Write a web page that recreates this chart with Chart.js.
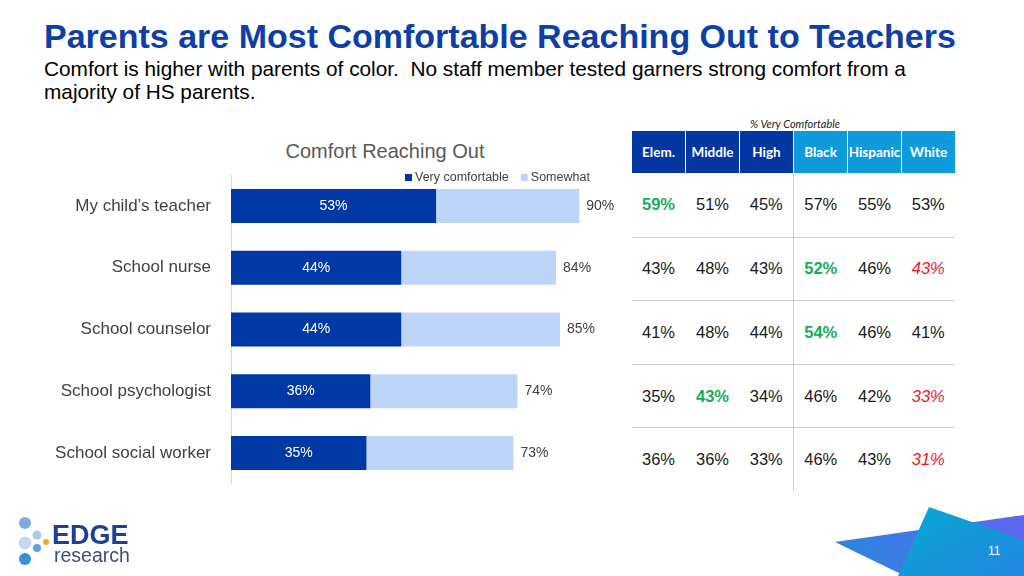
<!DOCTYPE html>
<html>
<head>
<meta charset="utf-8">
<script src="https://cdn.jsdelivr.net/npm/chart.js@4"></script>
<style>
    body { margin: 0; width: 1024px; height: 576px; overflow: hidden; background: #fff; font-family: "Liberation Sans", Arial, sans-serif; position: relative; }
    #title { position: absolute; left: 44px; top: 17px; font-size: 34px; font-weight: bold; color: #0D3FA6; white-space: nowrap; }
    #subtitle { position: absolute; left: 44px; top: 57px; font-size: 20.8px; line-height: 23px; color: #000; width: 900px; }
    #chartTitle { position: absolute; left: 240px; width: 290px; top: 140px; text-align: center; font-size: 20px; color: #595959; }
    #chartWrap { position: absolute; left: 0; top: 145px; width: 625px; height: 369px; }
    #tblCaption { position: absolute; left: 700px; width: 190px; top: 117px; text-align: center; font-family: Lato, sans-serif; font-style: italic; font-size: 11px; color: #222; }
    #tbl { position: absolute; left: 631px; top: 131px; border-collapse: collapse; }
    #tbl th { width: 53px; height: 42px; padding: 0; color: #fff; font-family: Lato, sans-serif; font-size: 13.5px; font-weight: bold; border-left: 1px solid #fff; }
    #tbl th.school { background: #0335A3; }
    #tbl th.demo { background: #0E9BDC; }
    #tbl td { height: 62.6px; padding: 0; text-align: center; font-size: 16.5px; color: #1a1a1a; border-bottom: 1px solid #cfcfcf; }
    #tbl tr:first-child td { height: 63.6px; }
    #tbl tr:last-child td { border-bottom: none; }
    #tbl td.sep { border-left: 1px solid #cfcfcf; }
    #tbl .hi { color: #16AD5A; font-weight: bold; }
    #tbl .lo { color: #E8161E; font-style: italic; }
    #logo { position: absolute; left: 0; top: 505px; }
    #deco { position: absolute; left: 820px; top: 490px; }
    #pageNum { position: absolute; left: 988px; top: 544px; font-size: 12px; color: #fff; }
</style>
</head>
<body>

<div id="title">Parents are Most Comfortable Reaching Out to Teachers</div>
<div id="subtitle">Comfort is higher with parents of color.&nbsp; No staff member tested garners strong comfort from a majority of HS parents.</div>

<div id="chartTitle">Comfort Reaching Out</div>
<div id="chartWrap"><canvas id="comfortChart"></canvas></div>

<div id="tblCaption">% Very Comfortable</div>
<table id="tbl"><thead><tr id="tblHead"></tr></thead><tbody id="tblBody"></tbody></table>

<svg id="logo" width="140" height="70">
    <circle cx="25" cy="18" r="6" fill="#7AAEE0"/>
    <circle cx="37" cy="30" r="4.5" fill="#A9CBEB"/>
    <circle cx="25" cy="38" r="6.5" fill="#C3D9F0"/>
    <circle cx="46" cy="37" r="3" fill="#F5A623"/>
    <circle cx="37" cy="43" r="4" fill="#5DA4E0"/>
    <circle cx="25" cy="54" r="6" fill="#3A8FD8"/>
    <text x="52" y="39" font-family="Liberation Sans, Arial" font-weight="bold" font-size="27" fill="#1D3F94">EDGE</text>
    <text x="54" y="57" font-family="Liberation Sans, Arial" font-size="19.5" fill="#3D4D7A">research</text>
</svg>

<svg id="deco" width="204" height="86">
    <defs>
        <linearGradient id="g1" x1="0" y1="0" x2="1" y2="0">
            <stop offset="0" stop-color="#2B86DE"/>
            <stop offset="1" stop-color="#5E66EE"/>
        </linearGradient>
        <linearGradient id="g2" x1="0" y1="0" x2="1" y2="1">
            <stop offset="0" stop-color="#07A9D3"/>
            <stop offset="1" stop-color="#2286E2"/>
        </linearGradient>
    </defs>
    <polygon points="15,52 204,25 204,86 85,86" fill="url(#g1)"/>
    <polygon points="109,17 204,50 204,86 78,86" fill="url(#g2)"/>
</svg>
<div id="pageNum">11</div>

<script>
// chart data
const staffLabels = ['My child\u2019s teacher', 'School nurse', 'School counselor', 'School psychologist', 'School social worker'];
const veryComfortable = [53, 44, 44, 36, 35];
const somewhat = [37, 40, 41, 38, 38];
const totalLabels = [90, 84, 85, 74, 73];

// table data (% very comfortable)
const groupHeaders = ['Elem.', 'Middle', 'High', 'Black', 'Hispanic', 'White'];
const tableRows = [
    [59, 51, 45, 57, 55, 53],
    [43, 48, 43, 52, 46, 43],
    [41, 48, 44, 54, 46, 41],
    [35, 43, 34, 46, 42, 33],
    [36, 36, 33, 46, 43, 31]
];
// 'hi' = green bold, 'lo' = red italic
const tableMarks = [
    ['hi', '', '', '', '', ''],
    ['', '', '', 'hi', '', 'lo'],
    ['', '', '', 'hi', '', ''],
    ['', 'hi', '', '', '', 'lo'],
    ['', '', '', '', '', 'lo']
];

const darkBlue = '#0039A6';
const lightBlue = '#BDD5F9';

// build the table
const head = document.getElementById('tblHead');
groupHeaders.forEach((h, i) => {
    const th = document.createElement('th');
    th.textContent = h;
    th.className = i < 3 ? 'school' : 'demo';
    head.appendChild(th);
});
const body = document.getElementById('tblBody');
tableRows.forEach((row, r) => {
    const tr = document.createElement('tr');
    row.forEach((v, c) => {
        const td = document.createElement('td');
        td.textContent = v + '%';
        if (c === 3) td.classList.add('sep');
        if (tableMarks[r][c]) td.classList.add(tableMarks[r][c]);
        tr.appendChild(td);
    });
    body.appendChild(tr);
});

// labels on the bars + legend inside the plot top
const barLabels = {
    id: 'barLabels',
    afterDatasetsDraw(chart) {
        const ctx = chart.ctx;
        ctx.save();
        ctx.font = '14px "Liberation Sans", Arial';
        ctx.textBaseline = 'middle';

        const m0 = chart.getDatasetMeta(0);
        m0.data.forEach((bar, i) => {
            ctx.fillStyle = '#fff';
            ctx.textAlign = 'center';
            ctx.fillText(veryComfortable[i] + '%', (bar.x + bar.base) / 2, bar.y);
        });
        const m1 = chart.getDatasetMeta(1);
        m1.data.forEach((bar, i) => {
            ctx.fillStyle = '#404040';
            ctx.textAlign = 'left';
            ctx.fillText(totalLabels[i] + '%', bar.x + 7, bar.y);
        });

        // legend
        ctx.font = '12.5px "Liberation Sans", Arial';
        let x = 405;
        const y = 33;
        chart.data.datasets.forEach(ds => {
            ctx.fillStyle = ds.backgroundColor;
            ctx.fillRect(x, y - 4, 7, 7);
            ctx.fillStyle = '#404040';
            ctx.textAlign = 'left';
            ctx.fillText(ds.label, x + 10, y);
            x += 10 + ctx.measureText(ds.label).width + 12;
        });
        ctx.restore();
    }
};

new Chart(document.getElementById('comfortChart'), {
    type: 'bar',
    data: {
        labels: staffLabels,
        datasets: [
            { label: 'Very comfortable', data: veryComfortable, backgroundColor: darkBlue },
            { label: 'Somewhat', data: somewhat, backgroundColor: lightBlue }
        ]
    },
    options: {
        indexAxis: 'y',
        responsive: true,
        maintainAspectRatio: false,
        animation: false,
        layout: { padding: { top: 15, bottom: 11, right: 7, left: 0 } },
        barPercentage: 0.55,
        categoryPercentage: 1,
        scales: {
            x: { stacked: true, min: 0, max: 100, display: false },
            y: {
                stacked: true,
                grid: { display: false, drawTicks: false },
                border: { display: true, color: '#d9d9d9', width: 1 },
                ticks: { color: '#404040', padding: 20, font: { family: '"Liberation Sans", Arial', size: 17 } },
                afterFit(scale) { scale.width = 231; }
            }
        },
        plugins: {
            legend: { display: false },
            tooltip: { enabled: false }
        }
    },
    plugins: [barLabels]
});
</script>
</body>
</html>
